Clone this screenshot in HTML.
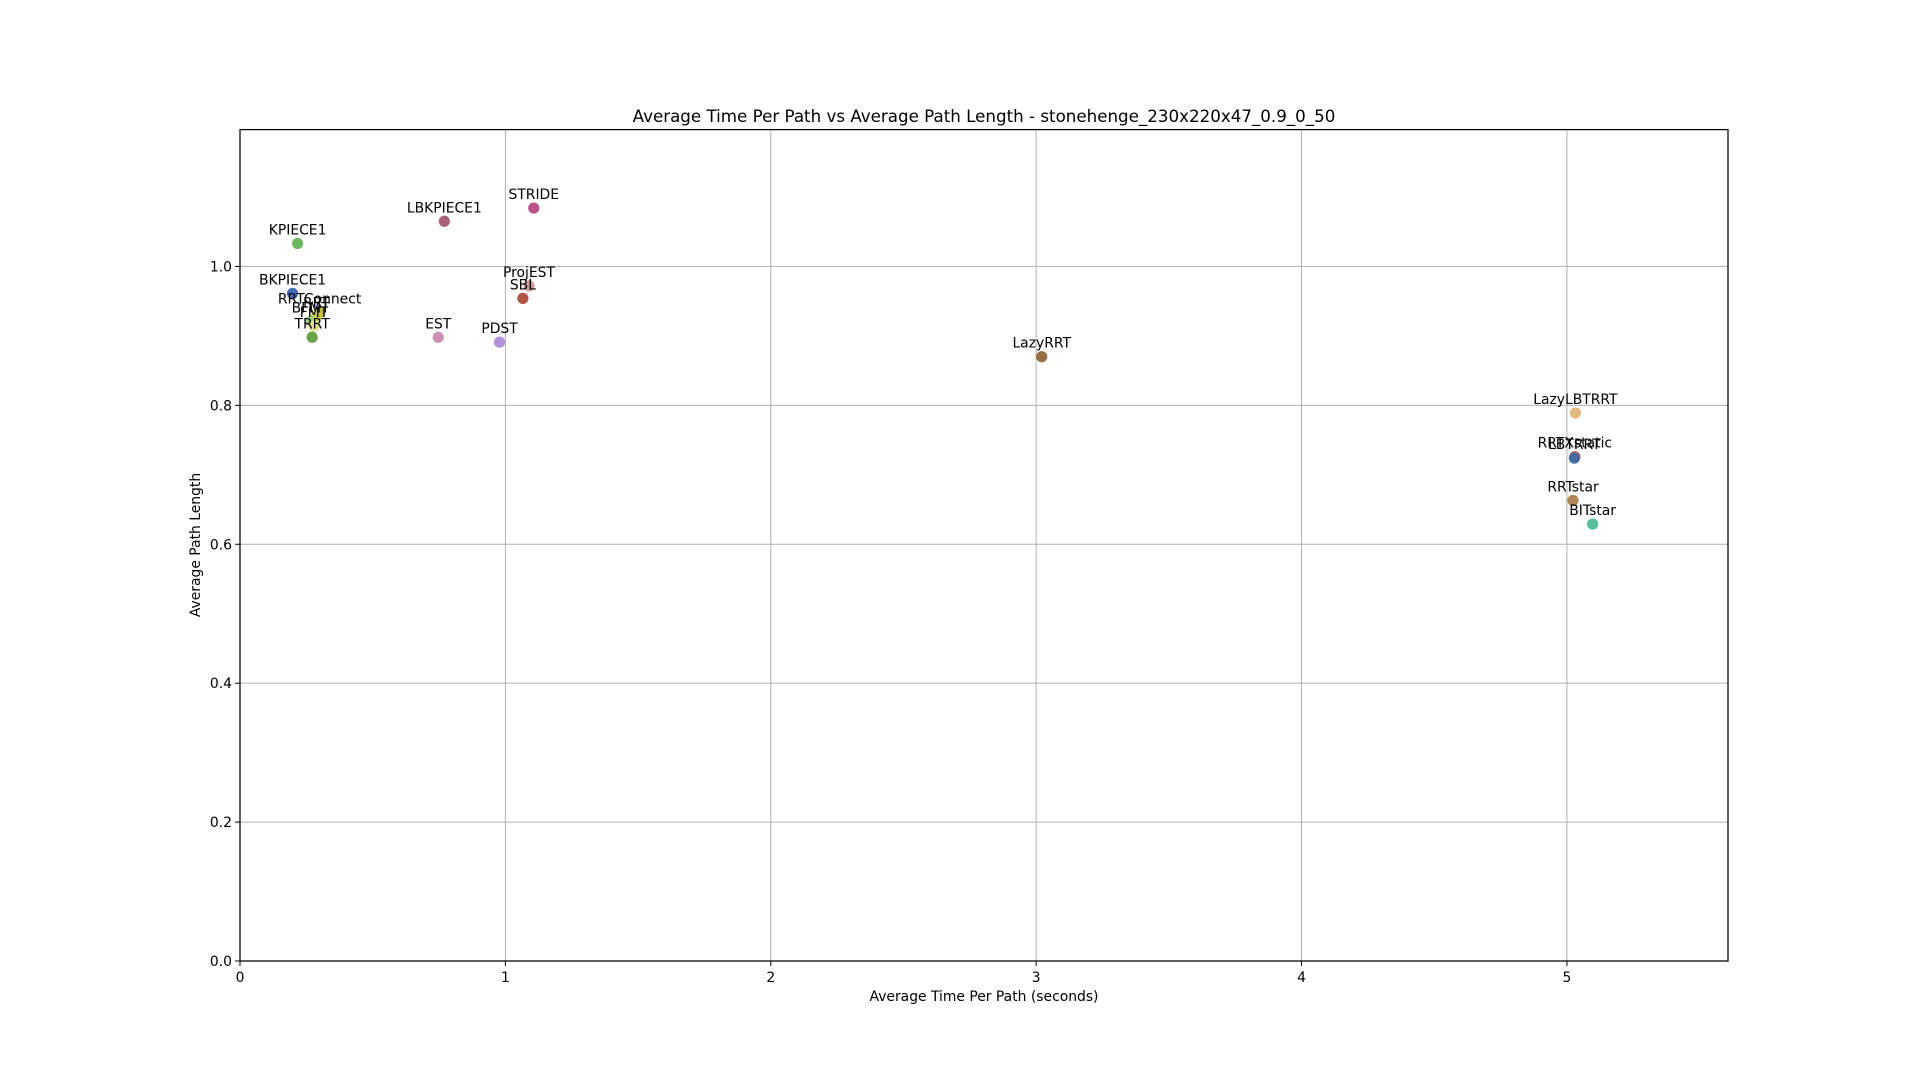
<!DOCTYPE html>
<html><head><meta charset="utf-8"><style>
html,body{margin:0;padding:0;background:#fff;}
svg{display:block;font-family:"DejaVu Sans","Liberation Sans",sans-serif;}
</style></head><body>
<svg id="chart" width="1920" height="1080" viewBox="0 0 1920 1080">
<rect width="1920" height="1080" fill="#fff"/>
<g id="grid"></g>
<g id="ticks"></g>
<g id="points"></g>
<rect x="240" y="129.6" width="1488" height="831.4" fill="none" stroke="#000" stroke-width="1.25"/>
<text x="984" y="122" text-anchor="middle" font-size="16.7">Average Time Per Path vs Average Path Length - stonehenge_230x220x47_0.9_0_50</text>
<text x="984" y="1001" text-anchor="middle" font-size="13.9">Average Time Per Path (seconds)</text>
<text x="0" y="0" transform="translate(200,545) rotate(-90)" text-anchor="middle" font-size="13.9">Average Path Length</text>
</svg>
<script>
const planners = ["KPIECE1","BKPIECE1","RRTConnect","RRT","BFMT","FMT","TRRT","LBKPIECE1","STRIDE","ProjEST","SBL","EST","PDST","LazyRRT","LazyLBTRRT","RRTXstatic","LBTRRT","RRTstar","BITstar"];
const times = [0.217,0.198,0.300,0.288,0.266,0.279,0.272,0.770,1.107,1.089,1.066,0.747,0.978,3.021,5.032,5.030,5.028,5.023,5.097];
const lengths = [1.033,0.961,0.934,0.928,0.921,0.914,0.898,1.065,1.084,0.972,0.954,0.898,0.891,0.870,0.789,0.726,0.724,0.663,0.629];
const colors = ["#5fae4f","#2f5bb0","#b5b030","#c8c840","#9ad070","#e0e090","#5a9a35","#a05070","#b0407a","#c89090","#a84432","#c884a8","#a884d0","#8a6030","#e0b070","#c05040","#3a6aa8","#a87848","#48b890"];
const xTicks = [0,1,2,3,4,5];
const yTicks = [0.0,0.2,0.4,0.6,0.8,1.0];
const L=240,R=1728,T=129.6,B=961,XMAX=5.607,YMAX=1.197;
const sx=v=>L+v/XMAX*(R-L);
const sy=v=>B-v/YMAX*(B-T);
const NS="http://www.w3.org/2000/svg";
const g=document.getElementById('grid'),tk=document.getElementById('ticks'),pt=document.getElementById('points');
function mk(tag,attrs,parent){const e=document.createElementNS(NS,tag);for(const k in attrs)e.setAttribute(k,attrs[k]);parent.appendChild(e);return e;}
xTicks.forEach(v=>{
  const x=sx(v);
  const l=mk('line',{x1:x,x2:x,y1:T,y2:B,stroke:'#b0b0b0','stroke-width':1},g);
  
  
  mk('line',{x1:x,x2:x,y1:B,y2:B+4.9,stroke:'#000','stroke-width':1},tk);
  const t=mk('text',{x:x,y:B+21,'text-anchor':'middle','font-size':13.9},tk);
  t.textContent=String(v);
  
  
});
yTicks.forEach(v=>{
  const y=sy(v);
  const l=mk('line',{x1:L,x2:R,y1:y,y2:y,stroke:'#b0b0b0','stroke-width':1},g);
  
  
  mk('line',{x1:L-4.9,x2:L,y1:y,y2:y,stroke:'#000','stroke-width':1},tk);
  const t=mk('text',{x:L-8,y:y+5,'text-anchor':'end','font-size':13.9},tk);
  t.textContent=v.toFixed(1);
  
  
});
planners.forEach((p,i)=>{
  const x=sx(times[i]),y=sy(lengths[i]);
  const c=mk('circle',{cx:x,cy:y,r:5.6,fill:colors[i],'fill-opacity':0.9},pt);
  
  
});
planners.forEach((p,i)=>{
  const x=sx(times[i]),y=sy(lengths[i]);
  const t=mk('text',{x:x,y:y-9,'text-anchor':'middle','font-size':13.9},pt);
  t.textContent=p;
  
  
});
</script>
</body></html>
